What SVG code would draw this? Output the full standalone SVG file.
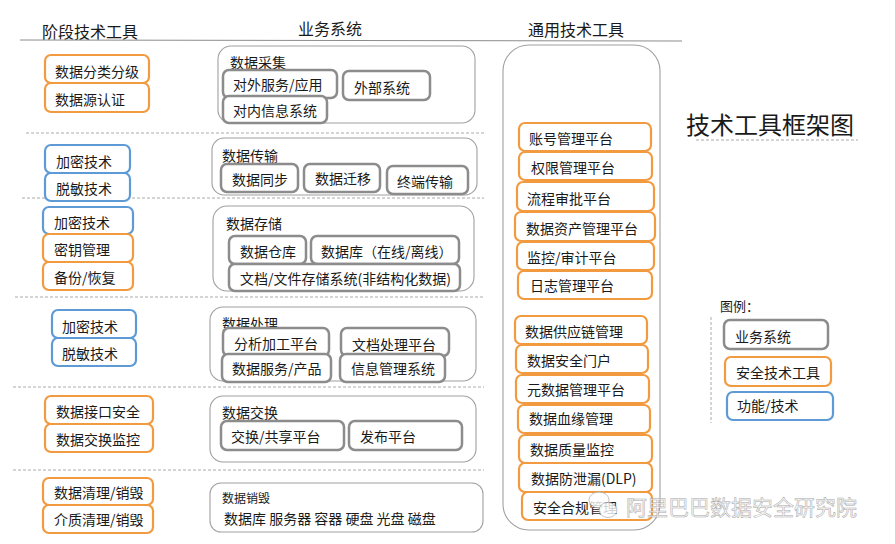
<svg xmlns="http://www.w3.org/2000/svg" width="895" height="544" viewBox="0 0 895 544">
<style>
text{font-family:"Noto Sans CJK SC","Liberation Sans",sans-serif;fill:#1a1a1a;dominant-baseline:central}
.t14{font-size:14px}
.h{font-size:16px}
.o{fill:#fff;stroke:#f29a3f;stroke-width:2.2}
.b{fill:#fff;stroke:#5e9ad6;stroke-width:2.2}
.g{fill:#fff;stroke:#8c8c8c;stroke-width:2.5}
.c{fill:#fff;stroke:#a0a0a0;stroke-width:1.1}
.d{stroke:#aaa;stroke-width:1;stroke-dasharray:3 2;fill:none}
</style>
<rect width="895" height="544" fill="#fff"/>

<g id="headers">
<text class="h" x="42" y="31">阶段技术工具</text>
<text class="h" x="298" y="28">业务系统</text>
<text class="h" x="528" y="29">通用技术工具</text>
<line x1="20" y1="40" x2="682" y2="41" stroke="#8c8c8c" stroke-width="1"/>
</g>

<g id="separators">
<line class="d" x1="26" y1="133" x2="484" y2="133"/>
<line class="d" x1="22" y1="198" x2="484" y2="198"/>
<line class="d" x1="15" y1="297" x2="484" y2="297"/>
<line class="d" x1="13" y1="387" x2="484" y2="387"/>
<line class="d" x1="13" y1="470" x2="484" y2="470"/>
</g>

<!-- Left column: stage tools -->
<g id="stage-collect">
<rect class="o" x="45" y="55" width="104" height="28" rx="6"/>
<text class="t14" x="55" y="71">数据分类分级</text>
<rect class="o" x="45" y="83" width="104" height="29" rx="6"/>
<text class="t14" x="55" y="99">数据源认证</text>
</g>
<g id="stage-transfer">
<rect class="b" x="45" y="145" width="85" height="28" rx="6"/>
<text class="t14" x="56" y="161">加密技术</text>
<rect class="b" x="45" y="173" width="85" height="28" rx="6"/>
<text class="t14" x="56" y="188">脱敏技术</text>
</g>
<g id="stage-storage">
<rect class="b" x="43" y="207" width="90" height="27" rx="6"/>
<text class="t14" x="54" y="222">加密技术</text>
<rect class="o" x="43" y="234" width="90" height="28" rx="6"/>
<text class="t14" x="54" y="249">密钥管理</text>
<rect class="o" x="43" y="262" width="90" height="28" rx="6"/>
<text class="t14" x="54" y="277">备份/恢复</text>
</g>
<g id="stage-process">
<rect class="b" x="52" y="310" width="84" height="28" rx="6"/>
<text class="t14" x="62" y="326">加密技术</text>
<rect class="b" x="52" y="338" width="84" height="28" rx="6"/>
<text class="t14" x="62" y="353">脱敏技术</text>
</g>
<g id="stage-exchange">
<rect class="o" x="45" y="396" width="108" height="28" rx="6"/>
<text class="t14" x="56" y="411">数据接口安全</text>
<rect class="o" x="45" y="424" width="108" height="28" rx="6"/>
<text class="t14" x="56" y="439">数据交换监控</text>
</g>
<g id="stage-destroy">
<rect class="o" x="43" y="478" width="110" height="27" rx="6"/>
<text class="t14" x="54" y="492">数据清理/销毁</text>
<rect class="o" x="43" y="505" width="110" height="28" rx="6"/>
<text class="t14" x="54" y="519">介质清理/销毁</text>
</g>

<!-- Middle column: business systems -->
<g id="biz-collect">
<rect class="c" x="218" y="46" width="257" height="77" rx="13"/>
<text class="t14" x="230" y="62">数据采集</text>
<rect class="g" x="223" y="70" width="114" height="28" rx="6"/>
<text class="t14" x="233" y="84">对外服务/应用</text>
<rect class="g" x="343" y="71" width="87" height="29" rx="6"/>
<text class="t14" x="354" y="87">外部系统</text>
<rect class="g" x="223" y="96" width="104" height="27" rx="6"/>
<text class="t14" x="233" y="110">对内信息系统</text>
</g>
<g id="biz-transfer">
<rect class="c" x="212" y="138" width="265" height="57" rx="12"/>
<text class="t14" x="222" y="155">数据传输</text>
<rect class="g" x="221" y="164" width="77" height="28" rx="6"/>
<text class="t14" x="232" y="179">数据同步</text>
<rect class="g" x="304" y="164" width="76" height="28" rx="6"/>
<text class="t14" x="315" y="178">数据迁移</text>
<rect class="g" x="387" y="166" width="81" height="28" rx="6"/>
<text class="t14" x="397" y="181">终端传输</text>
</g>
<g id="biz-storage">
<rect class="c" x="213" y="206" width="261" height="85" rx="14"/>
<text class="t14" x="226" y="223">数据存储</text>
<rect class="g" x="229" y="236" width="77" height="28" rx="6"/>
<text class="t14" x="240" y="251">数据仓库</text>
<rect class="g" x="311" y="236" width="148" height="28" rx="6"/>
<text class="t14" x="321" y="251">数据库（在线/离线）</text>
<rect class="g" x="229" y="264" width="231" height="27" rx="6"/>
<text class="t14" x="240" y="278">文档/文件存储系统(非结构化数据)</text>
</g>
<g id="biz-process">
<rect class="c" x="210" y="307" width="266" height="74" rx="13"/>
<text class="t14" x="222" y="323">数据处理</text>
<rect class="g" x="223" y="328" width="106" height="28" rx="6"/>
<text class="t14" x="234" y="343">分析加工平台</text>
<rect class="g" x="341" y="328" width="108" height="28" rx="6"/>
<text class="t14" x="352" y="344">文档处理平台</text>
<rect class="g" x="222" y="354" width="109" height="28" rx="6"/>
<text class="t14" x="232" y="368">数据服务/产品</text>
<rect class="g" x="340" y="354" width="105" height="28" rx="6"/>
<text class="t14" x="351" y="368">信息管理系统</text>
</g>
<g id="biz-exchange">
<rect class="c" x="210" y="396" width="266" height="66" rx="13"/>
<text class="t14" x="222" y="412">数据交换</text>
<rect class="g" x="221" y="421" width="123" height="29" rx="6"/>
<text class="t14" x="231" y="436">交换/共享平台</text>
<rect class="g" x="349" y="421" width="113" height="29" rx="6"/>
<text class="t14" x="360" y="436">发布平台</text>
</g>
<g id="biz-destroy">
<rect class="c" x="210" y="483" width="273" height="49" rx="11"/>
<text x="222" y="497" font-size="12">数据销毁</text>
<text x="224" y="518" font-size="14">数据库 服务器 容器 硬盘 光盘 磁盘</text>
</g>

<!-- Right column: common tools -->
<g id="common-tools">
<rect class="c" x="503" y="45" width="157" height="485" rx="26"/>
<rect class="o" x="519" y="123" width="132" height="28" rx="6"/>
<text class="t14" x="529" y="138">账号管理平台</text>
<rect class="o" x="519" y="152" width="133" height="28" rx="6"/>
<text class="t14" x="531" y="167">权限管理平台</text>
<rect class="o" x="517" y="182" width="137" height="29" rx="6"/>
<text class="t14" x="527" y="198">流程审批平台</text>
<rect class="o" x="515" y="212" width="140" height="29" rx="6"/>
<text class="t14" x="526" y="228">数据资产管理平台</text>
<rect class="o" x="517" y="242" width="137" height="28" rx="6"/>
<text class="t14" x="527" y="257">监控/审计平台</text>
<rect class="o" x="518" y="271" width="134" height="28" rx="6"/>
<text class="t14" x="530" y="285">日志管理平台</text>
<rect class="o" x="515" y="316" width="132" height="28" rx="6"/>
<text class="t14" x="525" y="331">数据供应链管理</text>
<rect class="o" x="516" y="345" width="132" height="28" rx="6"/>
<text class="t14" x="527" y="360">数据安全门户</text>
<rect class="o" x="516" y="375" width="133" height="28" rx="6"/>
<text class="t14" x="527" y="389">元数据管理平台</text>
<rect class="o" x="518" y="405" width="132" height="28" rx="6"/>
<text class="t14" x="529" y="418">数据血缘管理</text>
<rect class="o" x="519" y="435" width="133" height="28" rx="6"/>
<text class="t14" x="530" y="449">数据质量监控</text>
<rect class="o" x="519" y="463" width="133" height="29" rx="6"/>
<text class="t14" x="531" y="478">数据防泄漏(DLP)</text>
<rect class="o" x="522" y="492" width="130" height="28" rx="6"/>
<text class="t14" x="533" y="507">安全合规管理</text>
</g>

<g id="title">
<text x="686" y="123" font-size="24">技术工具框架图</text>
<line class="d" x1="696" y1="140" x2="858" y2="140"/>
</g>

<g id="legend">
<text x="720" y="305" font-size="13">图例：</text>
<line class="d" x1="711" y1="317" x2="711" y2="423"/>
<rect class="g" x="724" y="320" width="104" height="29" rx="6"/>
<text class="t14" x="735" y="336">业务系统</text>
<rect class="o" x="725" y="357" width="106" height="29" rx="6"/>
<text class="t14" x="736" y="372">安全技术工具</text>
<rect class="b" x="727" y="392" width="106" height="28" rx="6"/>
<text class="t14" x="737" y="405">功能/技术</text>
</g>

<g id="watermark" opacity="0.8">
<ellipse cx="599" cy="500" rx="10" ry="8" fill="#fff" stroke="#b5b5b5" stroke-width="1"/>
<ellipse cx="608" cy="510" rx="9" ry="7.5" fill="#fff" stroke="#b5b5b5" stroke-width="1"/>
<text x="626" y="506" font-size="21" style="fill:#fafafa;stroke:#8f8f8f;stroke-width:0.5">阿里巴巴数据安全研究院</text>
</g>
</svg>
